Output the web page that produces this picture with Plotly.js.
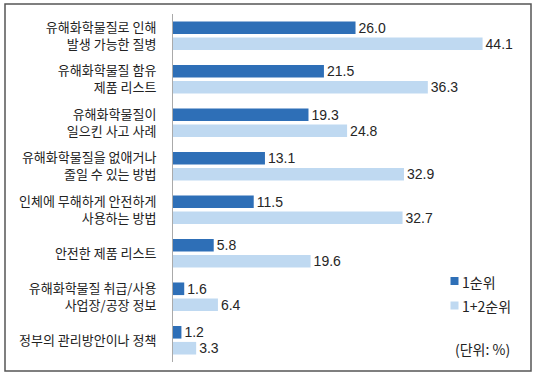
<!DOCTYPE html>
<html><head><meta charset="utf-8">
<script src="https://cdn.plot.ly/plotly-3.0.1.min.js"></script>
<style>html,body{margin:0;padding:0;background:#fff}#chart{width:540px;height:379px}</style>
</head><body><div id="chart"></div>
<script>
const categories = [
  "유해화학물질로 인해<br>발생 가능한 질병",
  "유해화학물질 함유<br>제품 리스트",
  "유해화학물질이<br>일으킨 사고 사례",
  "유해화학물질을 없애거나<br>줄일 수 있는 방법",
  "인체에 무해하게 안전하게<br>사용하는 방법",
  "안전한 제품 리스트",
  "유해화학물질 취급/사용<br>사업장/공장 정보",
  "정부의 관리방안이나 정책"
];
const rank1 = [26.0, 21.5, 19.3, 13.1, 11.5, 5.8, 1.6, 1.2];
const rank12 = [44.1, 36.3, 24.8, 32.9, 32.7, 19.6, 6.4, 3.3];
const seriesNames = ["1순위", "1+2순위"];
const unitNote = "(단위: %)";

const W = 540, H = 379, L = 173, R = 16, T = 14, B = 17;
const pw = W - L - R, ph = H - T - B;
const px = x => (x - L) / pw;
const py = y => (H - B - y) / ph;

const cDark = "#2e6fb7", cLight = "#bfd9f1";
const txtFont = {family: "Liberation Sans, Arial, sans-serif", size: 14, color: "#262626"};
const krFont = s => ({family: "Noto Sans CJK KR, sans-serif", size: s, color: "#222"});

const data = [
  {type: "bar", orientation: "h", name: seriesNames[0], y: categories, x: rank1,
   marker: {color: cDark}, text: rank1.map(v => v.toFixed(1)), textposition: "outside",
   constraintext: "none", textfont: txtFont, cliponaxis: false, hoverinfo: "skip"},
  {type: "bar", orientation: "h", name: seriesNames[1], y: categories, x: rank12,
   marker: {color: cLight}, text: rank12.map(v => v.toFixed(1)), textposition: "outside",
   constraintext: "none", textfont: txtFont, cliponaxis: false, hoverinfo: "skip"}
];

const layout = {
  width: W, height: H,
  margin: {l: L, r: R, t: T, b: B, pad: 0},
  paper_bgcolor: "#fff", plot_bgcolor: "#fff",
  font: krFont(13),
  showlegend: false,
  barmode: "group", bargap: 0.267, bargroupgap: 0.21,
  xaxis: {range: [0, 50], showgrid: false, zeroline: false, showticklabels: false, showline: false, fixedrange: true},
  yaxis: {autorange: "reversed", type: "category", showgrid: false, zeroline: false,
          showline: true, linecolor: "#aaaaaa", linewidth: 1, ticks: "", ticklabelstandoff: 13,
          tickfont: krFont(13)},
  shapes: [
    {type: "rect", xref: "paper", yref: "paper", x0: px(5), x1: px(531), y0: py(371), y1: py(4),
     line: {color: "#555", width: 1.5}, fillcolor: "rgba(0,0,0,0)", layer: "above"},
    {type: "rect", xref: "paper", yref: "paper", x0: px(450.5), x1: px(458.5), y0: py(285), y1: py(277),
     line: {width: 0}, fillcolor: cDark},
    {type: "rect", xref: "paper", yref: "paper", x0: px(450.5), x1: px(458.5), y0: py(309.5), y1: py(301.5),
     line: {width: 0}, fillcolor: cLight}
  ],
  annotations: [
    {xref: "paper", yref: "paper", x: px(460), y: py(282), text: seriesNames[0], showarrow: false,
     xanchor: "left", yanchor: "middle", font: krFont(14)},
    {xref: "paper", yref: "paper", x: px(460), y: py(306), text: seriesNames[1], showarrow: false,
     xanchor: "left", yanchor: "middle", font: krFont(14)},
    {xref: "paper", yref: "paper", x: px(453), y: py(349), text: unitNote, showarrow: false,
     xanchor: "left", yanchor: "middle", font: krFont(14)}
  ]
};

Plotly.newPlot("chart", data, layout, {staticPlot: true, displayModeBar: false});
</script></body></html>
